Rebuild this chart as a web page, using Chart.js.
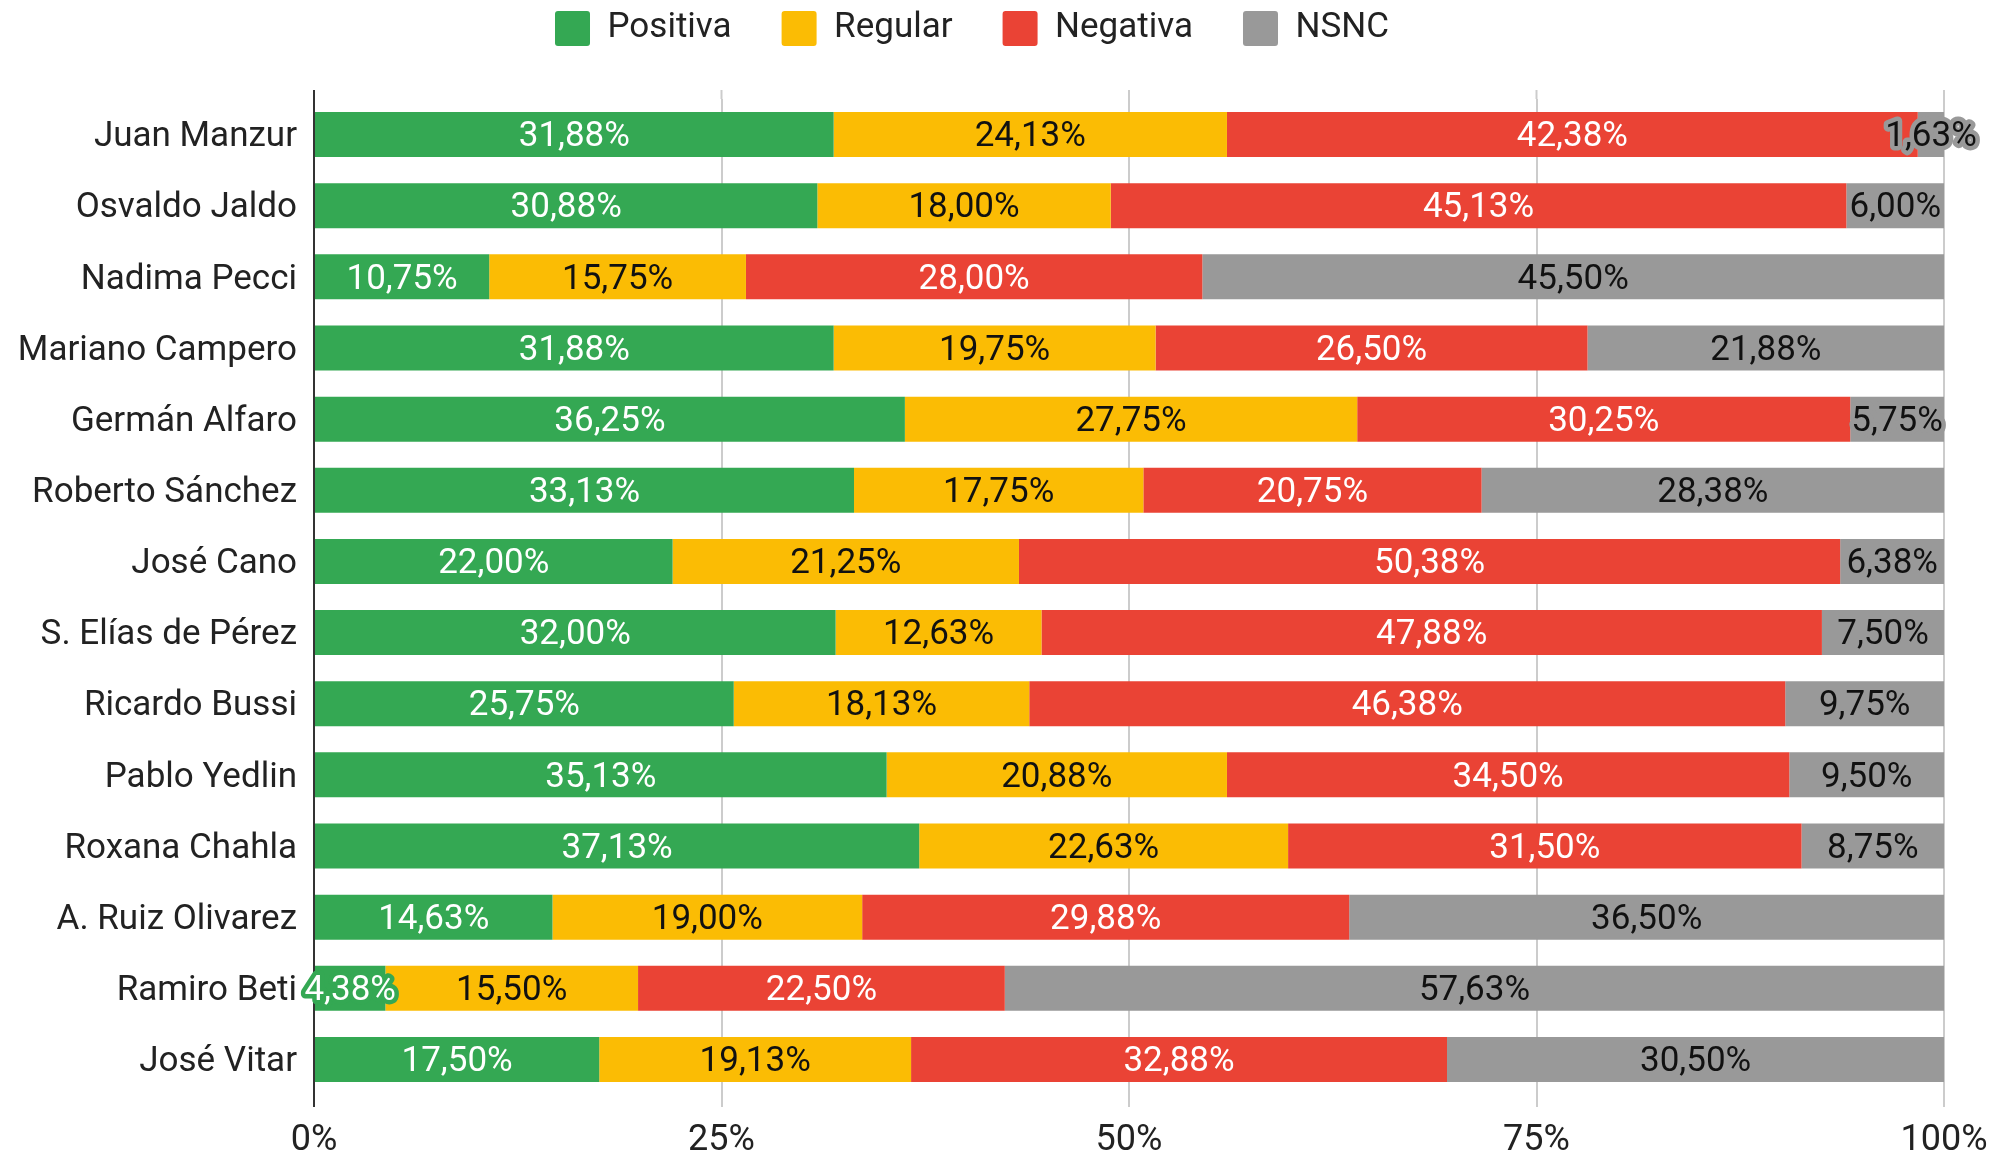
<!DOCTYPE html>
<html lang="es">
<head>
    <meta charset="UTF-8">
    <title>Imagen de dirigentes</title>
    <script src="https://cdn.jsdelivr.net/npm/chart.js"></script>
    <style>
        html, body { margin: 0; padding: 0; background: #fff; }
        #wrap { width: 2007px; height: 1154px; }
    </style>
</head>
<body>
    <div id="wrap"><canvas id="imagenChart" width="2007" height="1154"></canvas></div>

    <script>
        const nombres = ['Juan Manzur', 'Osvaldo Jaldo', 'Nadima Pecci', 'Mariano Campero', 'Germán Alfaro',
            'Roberto Sánchez', 'José Cano', 'S. Elías de Pérez', 'Ricardo Bussi', 'Pablo Yedlin',
            'Roxana Chahla', 'A. Ruiz Olivarez', 'Ramiro Beti', 'José Vitar'];
        const positiva = [31.88, 30.88, 10.75, 31.88, 36.25, 33.13, 22.00, 32.00, 25.75, 35.13, 37.13, 14.63, 4.38, 17.50];
        const regular  = [24.13, 18.00, 15.75, 19.75, 27.75, 17.75, 21.25, 12.63, 18.13, 20.88, 22.63, 19.00, 15.50, 19.13];
        const negativa = [42.38, 45.13, 28.00, 26.50, 30.25, 20.75, 50.38, 47.88, 46.38, 34.50, 31.50, 29.88, 22.50, 32.88];
        const nsnc     = [1.63, 6.00, 45.50, 21.88, 5.75, 28.38, 6.38, 7.50, 9.75, 9.50, 8.75, 36.50, 57.63, 30.50];
        const xTicks = [0, 25, 50, 75, 100];

        const FONT = 'Roboto';
        const fmt = v => v.toFixed(2).replace('.', ',') + '%';

        // labels centred in each segment, with a halo when the text is wider than the bar
        const segmentLabels = {
            id: 'segmentLabels',
            afterDatasetsDraw(chart) {
                const ctx = chart.ctx;
                ctx.save();
                ctx.font = '35px ' + FONT;
                ctx.textAlign = 'center';
                ctx.textBaseline = 'middle';
                ctx.lineJoin = 'round';
                chart.data.datasets.forEach((ds, i) => {
                    const meta = chart.getDatasetMeta(i);
                    meta.data.forEach((bar, j) => {
                        const txt = fmt(ds.data[j]);
                        const cx = (bar.x + bar.base) / 2;
                        const w = Math.abs(bar.x - bar.base);
                        if (ctx.measureText(txt).width > w - 4) {
                            ctx.strokeStyle = ds.backgroundColor;
                            ctx.lineWidth = 9;
                            ctx.strokeText(txt, cx, bar.y + 3);
                        }
                        ctx.fillStyle = ds.labelColor;
                        ctx.fillText(txt, cx, bar.y + 3);
                    });
                });
                ctx.restore();
            }
        };

        // grid lines poke a little above the plot, as in the original
        const gridStubs = {
            id: 'gridStubs',
            beforeDatasetsDraw(chart) {
                const ctx = chart.ctx;
                const top = chart.chartArea.top;
                ctx.save();
                ctx.lineWidth = 2;
                xTicks.forEach((t, i) => {
                    const x = chart.scales.x.getPixelForValue(t);
                    ctx.strokeStyle = i === 0 ? '#333' : '#ccc';
                    ctx.beginPath();
                    ctx.moveTo(x, top - 9);
                    ctx.lineTo(x, top);
                    ctx.stroke();
                });
                ctx.restore();
            }
        };

        const legendSize = {
            id: 'legendSize',
            beforeInit(chart) {
                const orig = chart.legend.fit;
                chart.legend.fit = function () {
                    orig.call(this);
                    this.height = 138;
                };
            }
        };

        new Chart(document.getElementById('imagenChart'), {
            type: 'bar',
            data: {
                labels: nombres,
                datasets: [
                    { label: 'Positiva', data: positiva, backgroundColor: '#34a853', labelColor: '#fff' },
                    { label: 'Regular', data: regular, backgroundColor: '#fbbc04', labelColor: '#111' },
                    { label: 'Negativa', data: negativa, backgroundColor: '#ea4335', labelColor: '#fff' },
                    { label: 'NSNC', data: nsnc, backgroundColor: '#999999', labelColor: '#111' }
                ]
            },
            options: {
                indexAxis: 'y',
                responsive: false,
                animation: false,
                barPercentage: 0.633,
                categoryPercentage: 1,
                layout: { padding: { top: -39, right: 63, left: 0, bottom: 0 } },
                plugins: {
                    legend: {
                        position: 'top',
                        labels: {
                            font: { family: FONT, size: 35 },
                            color: '#222',
                            boxWidth: 35,
                            boxHeight: 35,
                            padding: 50,
                            useBorderRadius: true,
                            borderRadius: 3
                        }
                    },
                    tooltip: { enabled: false }
                },
                scales: {
                    x: {
                        stacked: true,
                        min: 0,
                        max: 100,
                        afterBuildTicks(scale) { scale.ticks = xTicks.map(v => ({ value: v })); },
                        afterFit(scale) { scale.height = 59; },
                        ticks: {
                            font: { family: FONT, size: 36 },
                            color: '#222',
                            padding: 12,
                            callback: v => v + '%'
                        },
                        grid: {
                            color: c => c.index === 0 ? '#333' : '#ccc',
                            lineWidth: 2,
                            tickLength: 12
                        },
                        border: { display: false }
                    },
                    y: {
                        stacked: true,
                        afterFit(scale) { scale.width = 314; },
                        ticks: {
                            font: { family: FONT, size: 35 },
                            color: '#222',
                            padding: 17,
                            labelOffset: 3
                        },
                        grid: { display: false, drawTicks: false },
                        border: { display: true, color: '#333', width: 2 }
                    }
                }
            },
            plugins: [segmentLabels, gridStubs, legendSize]
        });
    </script>
</body>
</html>
